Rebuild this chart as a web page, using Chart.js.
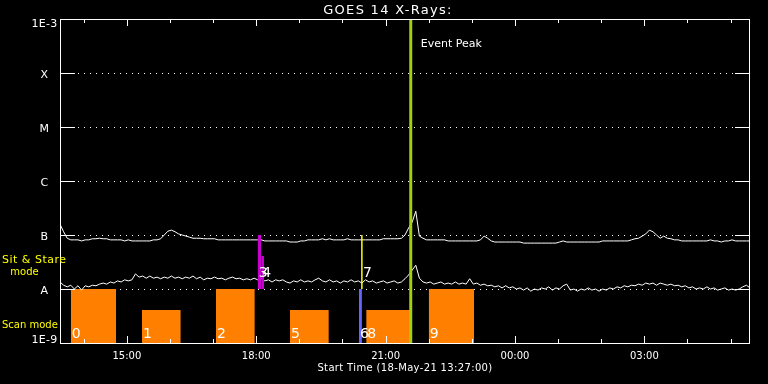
<!DOCTYPE html>
<html>
<head>
<meta charset="utf-8">
<title>GOES 14 X-Rays</title>
<script src="https://cdn.jsdelivr.net/npm/chart.js@4.4.0/dist/chart.umd.min.js"></script>
<style>
  html, body { margin: 0; padding: 0; background: #000; }
  #wrap { width: 768px; height: 384px; }
</style>
</head>
<body>
<div id="wrap"><canvas id="goes" width="768" height="384"></canvas></div>
<script>
// GOES 14 X-ray flux as log10(W/m^2), one sample every 5 minutes after start
const startLabel = 'Start Time (18-May-21 13:27:00)';
const sampleStep = 5; // minutes

// 1-8 A channel
const longFlux = [
  -6.80, -6.94, -7.06, -7.09, -7.09, -7.09, -7.11, -7.09, -7.09, -7.07,
  -7.07, -7.06, -7.07, -7.07, -7.09, -7.09, -7.09, -7.09, -7.11, -7.09,
  -7.11, -7.11, -7.11, -7.11, -7.11, -7.11, -7.09, -7.09, -7.07, -7.00,
  -6.93, -6.91, -6.94, -6.98, -7.00, -7.02, -7.04, -7.06, -7.06, -7.06,
  -7.07, -7.07, -7.07, -7.07, -7.09, -7.09, -7.09, -7.09, -7.09, -7.09,
  -7.09, -7.09, -7.09, -7.09, -7.09, -7.09, -7.09, -7.11, -7.11, -7.11,
  -7.11, -7.11, -7.11, -7.11, -7.13, -7.13, -7.13, -7.11, -7.11, -7.09,
  -7.09, -7.09, -7.09, -7.07, -7.09, -7.07, -7.09, -7.09, -7.09, -7.09,
  -7.07, -7.09, -7.09, -7.09, -7.09, -7.09, -7.09, -7.09, -7.09, -7.09,
  -7.07, -7.07, -7.07, -7.07, -7.07, -7.06, -7.00, -6.87, -6.76, -6.56,
  -7.02, -7.06, -7.09, -7.09, -7.09, -7.09, -7.09, -7.09, -7.11, -7.11,
  -7.11, -7.11, -7.11, -7.11, -7.11, -7.11, -7.11, -7.09, -7.02, -7.06,
  -7.11, -7.13, -7.13, -7.13, -7.13, -7.13, -7.13, -7.13, -7.13, -7.15,
  -7.15, -7.15, -7.15, -7.15, -7.15, -7.15, -7.15, -7.15, -7.15, -7.13,
  -7.11, -7.13, -7.13, -7.13, -7.13, -7.13, -7.13, -7.13, -7.13, -7.13,
  -7.13, -7.11, -7.11, -7.11, -7.11, -7.11, -7.11, -7.11, -7.11, -7.09,
  -7.07, -7.06, -7.02, -6.98, -6.91, -6.94, -7.00, -7.06, -7.02, -7.06,
  -7.07, -7.09, -7.09, -7.11, -7.11, -7.11, -7.11, -7.11, -7.11, -7.11,
  -7.11, -7.09, -7.11, -7.11, -7.13, -7.11, -7.11, -7.09, -7.11, -7.11,
  -7.11, -7.11, -7.11
];

// 0.5-4 A channel
const shortFlux = [
  -7.87, -7.93, -7.96, -7.93, -8.00, -7.94, -8.02, -7.94, -7.96, -7.93,
  -7.94, -7.91, -7.89, -7.91, -7.87, -7.89, -7.85, -7.87, -7.83, -7.85,
  -7.83, -7.72, -7.78, -7.76, -7.80, -7.76, -7.80, -7.78, -7.81, -7.78,
  -7.80, -7.76, -7.80, -7.78, -7.81, -7.78, -7.80, -7.76, -7.81, -7.78,
  -7.83, -7.80, -7.81, -7.78, -7.81, -7.80, -7.83, -7.80, -7.78, -7.81,
  -7.80, -7.83, -7.81, -7.83, -7.80, -7.83, -7.81, -7.85, -7.83, -7.87,
  -7.83, -7.85, -7.83, -7.87, -7.89, -7.85, -7.87, -7.83, -7.87, -7.85,
  -7.87, -7.83, -7.80, -7.85, -7.87, -7.83, -7.87, -7.85, -7.89, -7.85,
  -7.87, -7.83, -7.87, -7.85, -7.89, -7.83, -7.87, -7.85, -7.89, -7.87,
  -7.85, -7.89, -7.87, -7.85, -7.89, -7.87, -7.81, -7.74, -7.65, -7.56,
  -7.80, -7.87, -7.89, -7.87, -7.91, -7.89, -7.87, -7.91, -7.89, -7.91,
  -7.87, -7.91, -7.89, -7.91, -7.81, -7.91, -7.89, -7.93, -7.91, -7.94,
  -7.93, -7.96, -7.94, -7.98, -7.94, -7.98, -7.96, -8.00, -7.98, -8.02,
  -7.98, -8.04, -8.00, -8.02, -7.98, -8.00, -7.96, -8.02, -7.98, -8.00,
  -7.94, -7.91, -8.02, -8.00, -8.04, -8.00, -8.02, -7.98, -8.02, -8.00,
  -8.04, -8.00, -8.02, -7.98, -8.00, -7.96, -7.98, -7.94, -7.96, -7.93,
  -7.94, -7.91, -7.93, -7.89, -7.91, -7.89, -7.93, -7.89, -7.91, -7.93,
  -7.91, -7.94, -7.93, -7.96, -7.94, -7.98, -7.96, -8.00, -7.98, -8.00,
  -7.96, -8.00, -7.98, -8.02, -8.00, -7.98, -8.02, -8.00, -8.02, -8.00,
  -7.96, -7.93, -7.98
];

// flare class levels
const levelValues = [-3, -4, -5, -6, -7, -8, -9];
const levelLabels = ['1E-3', 'X', 'M', 'C', 'B', 'A', '1E-9'];

// time axis, minutes after 13:27
const timeSpan = 960;
const majorTicks = [93, 273, 453, 633, 813];
const majorLabels = ['15:00', '18:00', '21:00', '00:00', '03:00'];
const minorTicks = [33, 153, 213, 333, 393, 513, 573, 693, 753, 873, 933];

const eventPeak = 488;

// IRIS observations (minutes after start, top level as log10 flux)
const obsIds   = ['0', '1', '2', '3', '4', '5', '6', '7', '8', '9'];
const obsModes = ['scan', 'scan', 'scan', 'sit', 'sit', 'scan', 'scan', 'sit', 'scan', 'scan'];
const obsStart = [15, 114, 217, 275, 280, 320, 416, 420, 426, 513];
const obsEnd   = [78, 168, 271, 280, 284, 374, 420, 420, 487, 576];
const obsTop   = [-8, -8.39, -8, -7, -7.39, -8.39, -8, -7, -8.39, -8];

const obsColors = ['#ff8000', '#ff8000', '#ff8000', '#c800d0', '#c800d0',
                   '#ff8000', '#6464ff', '#ffff00', '#ff8000', '#ff8000'];

const FONT = '"DejaVu Sans", "Liberation Sans", sans-serif';

const toPoints = vals => vals.map((v, i) => ({ x: i * sampleStep, y: v }));

// Build one dataset per observation block
const obsDatasets = obsIds.map((id, i) => {
  const base = obsModes[i] === 'scan' ? -9 : -8;
  const onTop = obsColors[i] !== '#ff8000';
  if (obsEnd[i] - obsStart[i] < 1) {
    return {
      data: [{ x: obsStart[i], y: base }, { x: obsStart[i], y: obsTop[i] }],
      borderColor: obsColors[i],
      borderWidth: 1.5,
      fill: false,
      order: 2
    };
  }
  return {
    data: [{ x: obsStart[i], y: obsTop[i] }, { x: obsEnd[i], y: obsTop[i] }],
    borderWidth: 0,
    borderColor: 'rgba(0,0,0,0)',
    backgroundColor: obsColors[i],
    fill: { value: base },
    order: onTop ? 2 : 4
  };
});

function drawText(ctx, str, x, y, font, color, align, spacing) {
  ctx.font = font;
  ctx.fillStyle = color;
  ctx.textAlign = align || 'left';
  ctx.textBaseline = 'alphabetic';
  ctx.letterSpacing = (spacing || 0) + 'px';
  ctx.fillText(str, x, y);
  ctx.letterSpacing = '0px';
}

// Frame, dotted class levels, inside ticks and all labels
const goesFrame = {
  id: 'goesFrame',
  beforeDatasetsDraw(chart) {
    const { ctx, chartArea: a, scales: { y } } = chart;
    ctx.save();
    ctx.strokeStyle = '#fff';
    ctx.lineWidth = 1;
    ctx.setLineDash([1, 5]);
    levelValues.slice(1, -1).forEach(v => {
      const py = Math.round(y.getPixelForValue(v)) + 0.5;
      ctx.beginPath();
      ctx.moveTo(a.left + 18, py);
      ctx.lineTo(a.right - 15, py);
      ctx.stroke();
    });
    ctx.restore();
  },
  afterDatasetsDraw(chart) {
    const { ctx, chartArea: a, scales: { x, y } } = chart;
    ctx.save();
    ctx.strokeStyle = '#fff';
    ctx.lineWidth = 1;
    ctx.strokeRect(a.left + 0.5, a.top + 0.5, a.right - a.left - 1, a.bottom - a.top);

    ctx.beginPath();
    levelValues.forEach(v => {
      const py = Math.round(y.getPixelForValue(v)) + 0.5;
      ctx.moveTo(a.left, py); ctx.lineTo(a.left + 15, py);
      ctx.moveTo(a.right - 15, py); ctx.lineTo(a.right, py);
    });
    const tick = (t, len) => {
      const px = Math.round(x.getPixelForValue(t)) + 0.5;
      ctx.moveTo(px, a.bottom); ctx.lineTo(px, a.bottom - len);
      ctx.moveTo(px, a.top); ctx.lineTo(px, a.top + len);
    };
    minorTicks.forEach(t => tick(t, 4));
    majorTicks.forEach(t => tick(t, 7));
    ctx.stroke();

    // y labels
    levelValues.forEach((v, i) => {
      const py = Math.min(Math.max(y.getPixelForValue(v) + 5, a.top + 8), a.bottom);
      drawText(ctx, levelLabels[i], 44.5, py, '11px ' + FONT, '#fff', 'center', 0.3);
    });
    drawText(ctx, 'Sit & Stare', 2, 263, '11px ' + FONT, '#ffff00', 'left', 0.5);
    drawText(ctx, 'mode', 24.5, 275, '10px ' + FONT, '#ffff00', 'center', 0);
    drawText(ctx, 'Scan mode', 2, 328, '10px ' + FONT, '#ffff00', 'left', 0);

    // x labels
    majorTicks.forEach((t, i) => {
      drawText(ctx, majorLabels[i], x.getPixelForValue(t), 358.5, '10px ' + FONT, '#fff', 'center', 0);
    });
    drawText(ctx, startLabel, 405, 371, '10px ' + FONT, '#fff', 'center', 0.35);
    drawText(ctx, 'GOES 14 X-Rays:', 388, 14, '13px ' + FONT, '#fff', 'center', 1.3);

    // observation numbers
    obsIds.forEach((id, i) => {
      const px = x.getPixelForValue(obsStart[i]) + 1;
      const py = obsModes[i] === 'scan' ? 338 : 277;
      drawText(ctx, id, px, py, '14px ' + FONT, '#fff', 'left', 0);
    });

    drawText(ctx, 'Event Peak', x.getPixelForValue(eventPeak) + 10, 47, '11px ' + FONT, '#fff', 'left', 0);
    ctx.restore();
  }
};

new Chart(document.getElementById('goes'), {
  type: 'line',
  data: {
    datasets: [
      {
        label: 'Event Peak',
        data: [{ x: eventPeak, y: -9 }, { x: eventPeak, y: -3 }],
        borderColor: '#a0d010',
        borderWidth: 3,
        order: 1
      },
      {
        label: '1-8 A',
        data: toPoints(longFlux),
        borderColor: '#ffffff',
        borderWidth: 1,
        order: 3
      },
      {
        label: '0.5-4 A',
        data: toPoints(shortFlux),
        borderColor: '#ffffff',
        borderWidth: 1,
        order: 3
      },
      ...obsDatasets
    ]
  },
  options: {
    responsive: false,
    animation: false,
    devicePixelRatio: 1,
    layout: { padding: { left: 60, top: 19, right: 18, bottom: 41 } },
    elements: { point: { radius: 0 }, line: { tension: 0 } },
    plugins: {
      legend: { display: false },
      tooltip: { enabled: false },
      title: { display: false }
    },
    scales: {
      x: { type: 'linear', min: 0, max: timeSpan, display: false },
      y: { type: 'linear', min: -9, max: -3, display: false }
    }
  },
  plugins: [goesFrame]
});
</script>
</body>
</html>
